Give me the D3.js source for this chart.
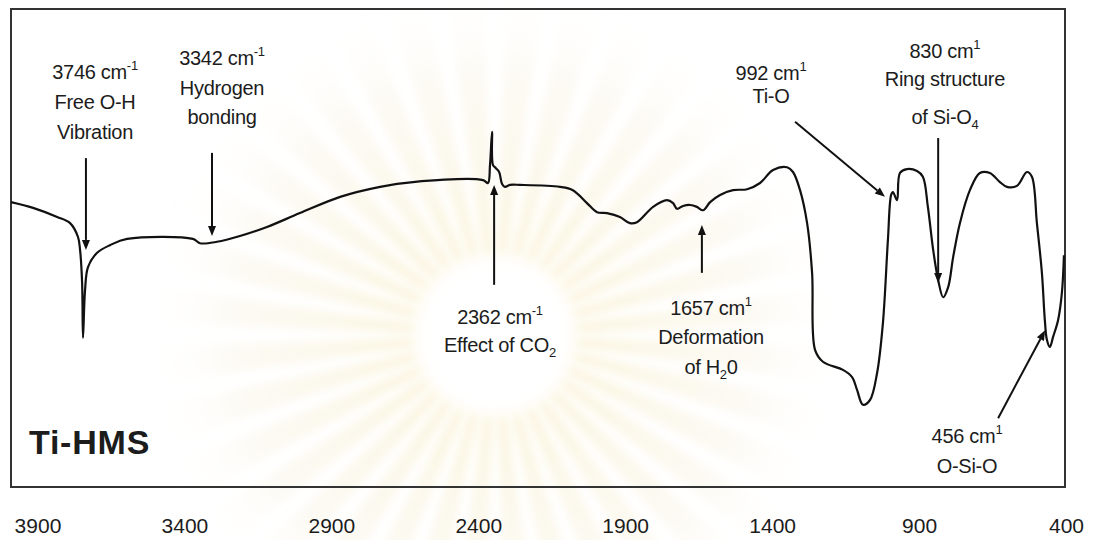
<!DOCTYPE html>
<html>
<head>
<meta charset="utf-8">
<script src="https://cdn.jsdelivr.net/npm/d3@7"></script>
<style>
  body { margin: 0; background: #fff; }
  svg { display: block; font-family: "Liberation Sans", Arial, sans-serif; }
</style>
</head>
<body>
<div id="chart"></div>
<script>
// IR spectrum of Ti-HMS (transmittance in arbitrary units)
const wavenumber = [
  3990, 3915, 3833, 3789, 3762, 3755, 3748, 3745, 3738, 3728,
  3697, 3653, 3595, 3371, 3347, 3289, 3211, 3119, 3007, 2870,
  2734, 2622, 2384, 2367, 2360, 2353, 2350, 2340, 2329, 2319,
  2309, 2292, 2258, 2122, 2078, 2030, 1996, 1962, 1918, 1884,
  1860, 1805, 1758, 1737, 1724, 1703, 1679, 1656, 1635, 1611,
  1577, 1533, 1485, 1441, 1397, 1349, 1329, 1305, 1281, 1264,
  1254, 1227, 1159, 1128, 1111, 1091, 1067, 1043, 1023, 1006,
  995, 989, 975, 965, 941, 907, 887, 870, 852, 835,
  818, 801, 784, 761, 727, 693, 659, 625, 601, 567,
  533, 516, 499, 482, 472, 465, 455, 444, 427, 414,
  407
];
const transmittance = [
  59.6, 58.4, 56.5, 55.2, 52.3, 49.6, 42.7, 31.2, 41.2, 46.0,
  49.0, 50.6, 51.9, 51.9, 51.0, 51.3, 52.5, 54.4, 57.3, 60.7,
  62.8, 63.8, 64.2, 63.6, 67.4, 74.3, 67.4, 66.7, 65.9, 63.4,
  62.8, 63.2, 63.2, 62.8, 62.1, 59.4, 57.5, 57.3, 56.5, 55.2,
  55.4, 58.6, 60.0, 59.4, 58.2, 58.8, 59.0, 58.6, 57.9, 59.6,
  61.1, 62.1, 62.3, 63.6, 66.3, 66.9, 65.9, 62.1, 55.2, 44.8,
  28.7, 26.2, 24.5, 23.0, 20.3, 17.2, 18.2, 23.8, 34.3, 51.7,
  61.1, 61.7, 60.0, 65.7, 66.5, 66.1, 64.9, 58.6, 49.6, 43.3,
  39.7, 41.8, 48.1, 55.2, 62.1, 65.7, 65.7, 63.8, 62.8, 63.0,
  65.9, 64.9, 55.2, 44.8, 34.9, 30.8, 29.3, 31.4, 34.9, 40.6,
  48.5
];

const tickValues = [3900, 3400, 2900, 2400, 1900, 1400, 900, 400];
const sampleName = "Ti-HMS";

// band labels: text lines, label anchor and arrow (wavenumber, transmittance)
const annotations = [
  { lines: ["3746 cm^{-1}", "Free O-H", "Vibration"], at: [3704, 85.4], from: [3735, 68.8], to: [3735, 49.6] },
  { lines: ["3342 cm^{-1}", "Hydrogen", "bonding"], at: [3272, 88.3], from: [3306, 69.9], to: [3306, 52.5] },
  { lines: ["2362 cm^{-1}", "Effect of CO_{2}"], at: [2326, 34.1], from: [2346, 42.3], to: [2346, 63.2] },
  { lines: ["1657 cm^{1}", "Deformation", "of H_{2}0"], at: [1608, 36.0], from: [1639, 44.8], to: [1639, 54.8] },
  { lines: ["992 cm^{1}", "Ti-O"], at: [1404, 85.1], from: [1322, 76.4], to: [1016, 60.7] },
  { lines: ["830 cm^{1}", "Ring structure", "of Si-O_{4}"], at: [812, 89.7], from: [835, 73.0], to: [835, 42.7] },
  { lines: ["456 cm^{1}", "O-Si-O"], at: [737, 9.2], from: [631, 14.4], to: [471, 32.8] }
];
const lineOffsets = [[0, 30, 60], [0, 30, 59], [0, 28], [0, 29, 59], [0, 23], [0, 28, 66], [0, 30]];

const width = 1095;
const height = 540;
const ink = "#1c1c1c";

const spectrum = wavenumber.map((w, i) => ({ w: w, t: transmittance[i] }));

const x = d3.scaleLinear().domain([3990, 400]).range([11, 1066]);
const y = d3.scaleLinear().domain([0, 100]).range([487, 9]);

const svg = d3
  .select("#chart")
  .append("svg")
  .attr("width", width)
  .attr("height", height);

/* faint sunburst watermark behind the plot */
const defs = svg.append("defs");
defs.append("filter").attr("id", "blur")
  .append("feGaussianBlur").attr("stdDeviation", 4);
const cx = 495, cy = 335, R = 345;
const grad = defs.append("radialGradient")
  .attr("id", "rayGrad")
  .attr("gradientUnits", "userSpaceOnUse")
  .attr("cx", cx).attr("cy", cy).attr("r", R);
[
  [0, "#ffffff", 0],
  [0.19, "#ffffff", 0],
  [0.25, "#eccb5e", 0.2],
  [0.45, "#f0db98", 0.2],
  [0.75, "#f2e8c8", 0.2],
  [1, "#f8f3e2", 0]
].forEach(([o, c, a]) => {
  grad.append("stop").attr("offset", o).attr("stop-color", c).attr("stop-opacity", a);
});
const rays = d3.range(36).map((i) => ((i * 10 + 5) * Math.PI) / 180);
const half = (3.2 * Math.PI) / 180;
svg.append("g")
  .attr("filter", "url(#blur)")
  .selectAll("path")
  .data(rays)
  .enter()
  .append("path")
  .attr("d", (a) =>
    `M${cx},${cy}L${cx + R * Math.cos(a - half)},${cy + R * Math.sin(a - half)}` +
    `L${cx + R * Math.cos(a + half)},${cy + R * Math.sin(a + half)}Z`)
  .attr("fill", "url(#rayGrad)");

/* frame */
svg.append("rect")
  .attr("x", x.range()[0])
  .attr("y", y.range()[1])
  .attr("width", x.range()[1] - x.range()[0] - 1)
  .attr("height", y.range()[0] - y.range()[1])
  .attr("fill", "none")
  .attr("stroke", "#333")
  .attr("stroke-width", 2);

/* x axis labels */
const xAxis = svg.append("g")
  .attr("transform", `translate(0, ${y.range()[0]})`)
  .call(d3.axisBottom(x).tickValues(tickValues).tickSize(0).tickPadding(31).tickFormat(d3.format("d")));
xAxis.select(".domain").remove();
xAxis.selectAll("text")
  .attr("font-size", 21)
  .attr("font-family", '"Liberation Sans", Arial, sans-serif')
  .attr("fill", ink);

/* spectrum */
const line = d3.line()
  .curve(d3.curveCatmullRom.alpha(0.5))
  .x((d) => x(d.w))
  .y((d) => y(d.t));

svg.append("path")
  .datum(spectrum)
  .attr("d", line)
  .attr("fill", "none")
  .attr("stroke", "#111")
  .attr("stroke-width", 2.2)
  .attr("stroke-linejoin", "round");

/* arrows */
const headLen = 10, headW = 4;
const arrows = svg.append("g");
annotations.forEach((a) => {
  const x1 = x(a.from[0]), y1 = y(a.from[1]);
  const x2 = x(a.to[0]), y2 = y(a.to[1]);
  const ang = Math.atan2(y2 - y1, x2 - x1);
  const bx = x2 - headLen * Math.cos(ang), by = y2 - headLen * Math.sin(ang);
  arrows.append("line")
    .attr("x1", x1).attr("y1", y1).attr("x2", bx).attr("y2", by)
    .attr("stroke", "#111").attr("stroke-width", 2);
  arrows.append("path")
    .attr("d", `M${x2},${y2}L${bx + headW * Math.sin(ang)},${by - headW * Math.cos(ang)}` +
      `L${bx - headW * Math.sin(ang)},${by + headW * Math.cos(ang)}Z`)
    .attr("fill", "#111");
});

/* annotation text with ^{} superscripts and _{} subscripts */
const writeLine = (sel, str) => {
  let shift = 0;
  str.split(/(\^\{[^}]*\}|_\{[^}]*\})/).filter((s) => s).forEach((part) => {
    if (part[0] === "^" || part[0] === "_") {
      const d = part[0] === "^" ? -9 : 5;
      sel.append("tspan").attr("font-size", 13).attr("dy", d - shift).text(part.slice(2, -1));
      shift = d;
    } else {
      sel.append("tspan").attr("dy", -shift).text(part);
      shift = 0;
    }
  });
};

const labels = svg.append("g")
  .attr("font-size", 20)
  .attr("fill", ink)
  .attr("text-anchor", "middle");
annotations.forEach((a, k) => {
  a.lines.forEach((txt, j) => {
    const t = labels.append("text")
      .attr("x", x(a.at[0]))
      .attr("y", y(a.at[1]) + lineOffsets[k][j])
      .attr("letter-spacing", -0.3);
    writeLine(t, txt);
  });
});

/* sample name */
svg.append("text")
  .attr("x", x(3929))
  .attr("y", y(6.9))
  .attr("font-size", 34)
  .attr("font-weight", "bold")
  .attr("letter-spacing", 0.8)
  .attr("fill", ink)
  .text(sampleName);
</script>
</body>
</html>
